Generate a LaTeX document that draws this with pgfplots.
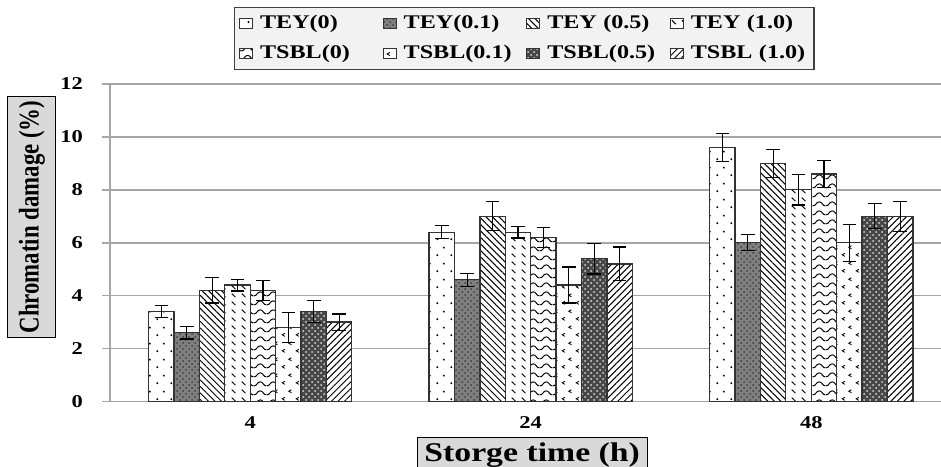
\documentclass[border=0pt]{standalone}
\usepackage{pgfplots}
\pgfplotsset{compat=1.18}
\usepackage{fontspec}
\setmainfont{Liberation Serif}[FakeStretch=1.25]
\newfontfamily\ylabfont{Liberation Serif}
\usetikzlibrary{patterns,patterns.meta}

\pgfdeclarepatternformonly{sparsedots}{\pgfqpoint{0pt}{0pt}}{\pgfqpoint{7pt}{8pt}}{\pgfqpoint{7pt}{8pt}}{%
 \pgfpathcircle{\pgfqpoint{1.75pt}{2pt}}{0.55pt}%
 \pgfpathcircle{\pgfqpoint{5.25pt}{6pt}}{0.55pt}%
 \pgfusepath{fill}}
\pgfdeclarepatternformonly{dashdiag}{\pgfqpoint{0pt}{0pt}}{\pgfqpoint{5pt}{4pt}}{\pgfqpoint{5pt}{4pt}}{%
 \pgfsetlinewidth{0.55pt}%
 \pgfpathmoveto{\pgfqpoint{1pt}{3pt}}%
 \pgfpathlineto{\pgfqpoint{3pt}{1pt}}%
 \pgfusepath{stroke}}
\pgfdeclarepatternformonly{mywaves}{\pgfqpoint{0pt}{0pt}}{\pgfqpoint{6.35pt}{4.3pt}}{\pgfqpoint{6.35pt}{4.3pt}}{%
 \pgfsetlinewidth{0.5pt}%
 \pgfpathmoveto{\pgfqpoint{0pt}{1.1pt}}%
 \pgfpathcurveto{\pgfqpoint{1.6pt}{1.1pt}}{\pgfqpoint{1.6pt}{3.2pt}}{\pgfqpoint{3.175pt}{3.2pt}}%
 \pgfpathcurveto{\pgfqpoint{4.75pt}{3.2pt}}{\pgfqpoint{4.75pt}{1.1pt}}{\pgfqpoint{6.35pt}{1.1pt}}%
 \pgfusepath{stroke}}
\pgfdeclarepatternformonly{chevrons}{\pgfqpoint{0pt}{0pt}}{\pgfqpoint{7pt}{8pt}}{\pgfqpoint{7pt}{8pt}}{%
 \pgfsetlinewidth{0.45pt}%
 \pgfpathmoveto{\pgfqpoint{2.6pt}{3.0pt}}\pgfpathlineto{\pgfqpoint{1.2pt}{2.2pt}}\pgfpathlineto{\pgfqpoint{2.6pt}{1.4pt}}%
 \pgfpathmoveto{\pgfqpoint{6.1pt}{7.0pt}}\pgfpathlineto{\pgfqpoint{4.7pt}{6.2pt}}\pgfpathlineto{\pgfqpoint{6.1pt}{5.4pt}}%
 \pgfusepath{stroke}}

\pgfplotsset{
  eb/.style={error bars/.cd, y dir=both, y explicit,
     error bar style={black, line width=0.6pt},
     error mark options={black, rotate=90, mark size=3.4pt, line width=0.6pt}},
  barbase/.style={draw=black!80, line width=0.65pt},
}

\begin{document}
\begin{tikzpicture}
\useasboundingbox (-55pt,-32.25pt) rectangle (415.5pt,200.75pt);
\begin{axis}[
  at={(0,0)}, anchor=south west,
  scale only axis, width=415.5pt, height=158.75pt,
  ybar=0pt, bar width=12.7pt,
  xmin=-0.5, xmax=2.4626, ymin=0, ymax=12,
  xtick={0,1,2}, xticklabels={4,24,48},
  ytick={0,2,...,12},
  axis x line*=bottom, axis y line*=left,
  axis line style={black!35, line width=0.75pt},
  ymajorgrids, major grid style={black!35, line width=0.75pt},
  tick align=outside, major tick length=4pt,
  ytick style={black!35, line width=0.75pt},
  xtick style={draw=none},
  tick label style={font=\bfseries\fontsize{9}{10}\selectfont},
  yticklabel style={xshift=-6pt},
  /pgf/number format/assume math mode=true,
  legend image code/.code={\draw[#1, line width=0.5pt] (0pt,-2.5pt) rectangle (6.5pt,2.5pt);},
  legend columns=4,
  legend cell align=left,
  legend style={at={(axis description cs:0.1492,1.2416)}, anchor=north west,
     draw=black!75, fill=black!5, line width=0.6pt,
     inner xsep=2.25pt, inner ysep=3.2pt, row sep=6.3pt,
     font=\bfseries\fontsize{9.65}{11}\selectfont,
     nodes={text width=59.3pt, inner sep=0pt, text height=7pt, text depth=2pt, align=left},
     /tikz/every odd column/.append style={column sep=3.5pt},
     /tikz/every even column/.append style={column sep=2pt}},
  ylabel={\scalebox{1}[1.25]{\ylabfont\bfseries\fontsize{11.4}{13}\selectfont Chromatin damage (\%)}},
  ylabel style={at={(axis description cs:-0.0939,0.581)}, anchor=center,
     draw=black, fill=black!15, line width=0.5pt,
     minimum width=120.5pt, minimum height=24pt, inner sep=1pt},
  xlabel={Storge time (h)},
  xlabel style={at={(axis description cs:0.508,-0.1118)}, anchor=north,
     draw=black, fill=black!15, line width=0.5pt,
     font=\bfseries\fontsize{13.5}{15}\selectfont,
     minimum width=115pt, minimum height=18pt, inner sep=1pt},
]
% TEY(0)
\addplot[barbase, fill=white, postaction={pattern=sparsedots, pattern color=black}, eb]
  coordinates {(0,3.4) +- (0,0.23) (1,6.4) +- (0,0.24) (2,9.6) +- (0,0.52)};
% TEY(0.1)
\addplot[barbase, fill=black!50, postaction={pattern=crosshatch dots, pattern color=black!75}, eb]
  coordinates {(0,2.6) +- (0,0.24) (1,4.6) +- (0,0.24) (2,6.0) +- (0,0.3)};
% TEY(0.5)
\addplot[barbase, fill=white, postaction={pattern={Lines[angle=-45,distance=2.3pt,line width=0.5pt]}, pattern color=black}, eb]
  coordinates {(0,4.2) +- (0,0.48) (1,7.0) +- (0,0.55) (2,9.0) +- (0,0.53)};
% TEY(1.0)
\addplot[barbase, fill=white, postaction={pattern=dashdiag, pattern color=black}, eb]
  coordinates {(0,4.4) +- (0,0.22) (1,6.4) +- (0,0.22) (2,8.0) +- (0,0.57)};
% TSBL(0)
\addplot[barbase, fill=white, postaction={pattern=mywaves, pattern color=black}, eb]
  coordinates {(0,4.2) +- (0,0.38) (1,6.2) +- (0,0.38) (2,8.6) +- (0,0.5)};
% TSBL(0.1)
\addplot[barbase, fill=white, postaction={pattern=chevrons, pattern color=black}, eb]
  coordinates {(0,2.8) +- (0,0.57) (1,4.4) +- (0,0.68) (2,6.0) +- (0,0.7)};
% TSBL(0.5)
\addplot[barbase, fill=black!72, postaction={pattern=crosshatch dots, pattern color=white!85!black}, eb]
  coordinates {(0,3.4) +- (0,0.42) (1,5.4) +- (0,0.58) (2,7.0) +- (0,0.47)};
% TSBL(1.0)
\addplot[barbase, fill=white, postaction={pattern={Lines[angle=45,distance=2.3pt,line width=0.5pt]}, pattern color=black}, eb]
  coordinates {(0,3.0) +- (0,0.31) (1,5.2) +- (0,0.64) (2,7.0) +- (0,0.56)};
\legend{TEY(0), TEY(0.1), TEY (0.5), TEY (1.0), TSBL(0), TSBL(0.1), TSBL(0.5), TSBL (1.0)}
\end{axis}
\end{tikzpicture}
\end{document}
